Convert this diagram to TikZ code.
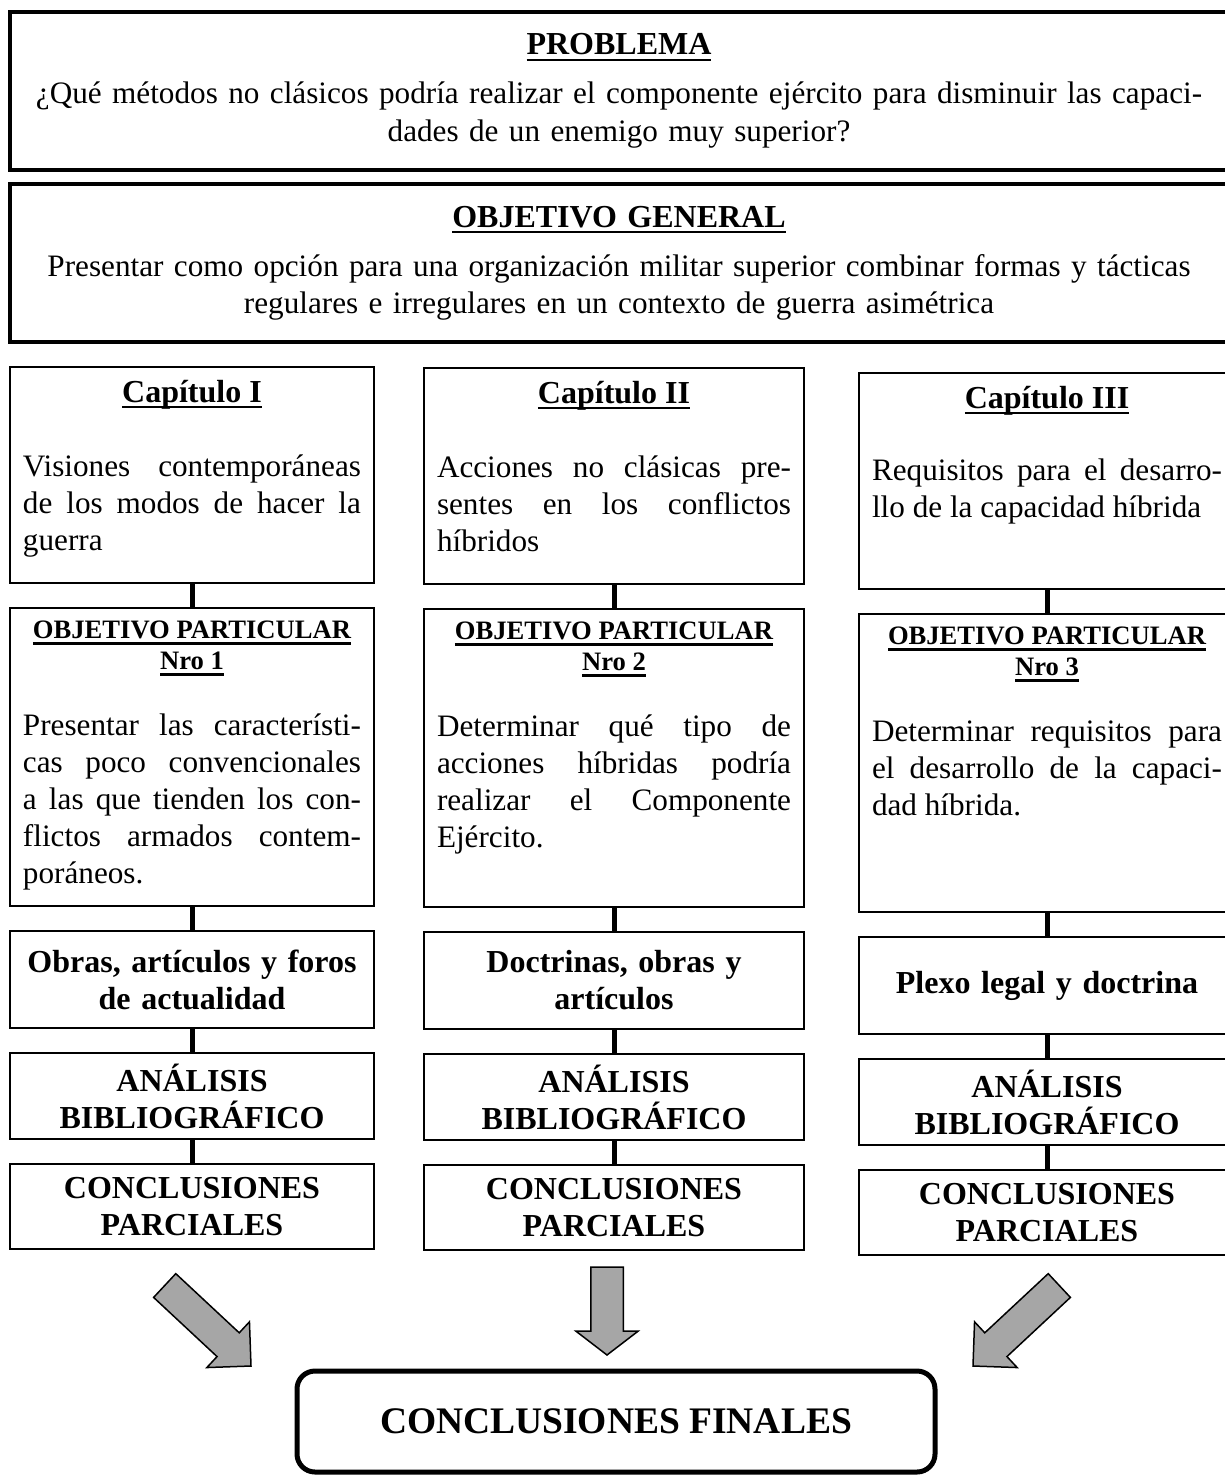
\documentclass[tikz,border=0pt]{standalone}
\usepackage{fontspec}
\setmainfont{Liberation Serif}
\usetikzlibrary{
    positioning,
    shapes.arrows
}
\definecolor{flechagris}{RGB}{166,166,166}
\newcommand{\textoN}{\fontsize{31.2pt}{37pt}\selectfont}
\newcommand{\textoB}{\fontsize{32pt}{37pt}\selectfont}
\newcommand{\textoP}{\fontsize{26.6pt}{31pt}\selectfont}
\newcommand{\textoG}{\fontsize{37.5pt}{44pt}\selectfont}
\newsavebox{\cajasubr}
\newcommand{\subr}[1]{\sbox{\cajasubr}{#1}\leavevmode\rlap{\rule[-6pt]{\wd\cajasubr}{2.2pt}}\usebox{\cajasubr}}
\tolerance=10000
\hyphenpenalty=10000
\tikzset{
    caja/.style = {
        draw,
        outer sep = 0pt,
        inner sep = 0pt,
        font = \textoN
    },
    cajasup/.style = {
        caja,
        line width = 4pt,
        anchor = north west,
        minimum width = 1218pt,
        minimum height = 158pt,
        text width = 1200pt,
        align = center
    },
    cajacol/.style = {
        caja,
        line width = 2pt,
        inner xsep = 13pt
    },
    cajanegrita/.style = {
        caja,
        line width = 2pt,
        font = \textoB\bfseries,
        align = center
    },
    cajafinal/.style = {
        draw,
        outer sep = 0pt,
        rounded corners = 18pt,
        line width = 5pt,
        anchor = north west,
        minimum width = 638pt,
        minimum height = 101pt,
        font = \textoG\bfseries
    },
    enlace/.style = {line width = 5pt},
    flecha/.style = {
        single arrow,
        draw,
        line width = 1.5pt,
        fill = flechagris,
        inner xsep = 0pt,
        inner ysep = 15.5pt,
        outer sep = 0pt,
        single arrow head extend = 15pt,
        single arrow tip angle = 105,
        anchor = tip
    }
}

\begin{document}
\begin{tikzpicture}[
                        x = 1pt,
                        y = -1pt,
                        node distance = 25pt
                    ]
    \useasboundingbox (0,0) rectangle (1224,1477);

    \node[cajasup] (problema) at (10,12) {{\textoB\bfseries\subr{PROBLEMA}}\\[12pt]
        ¿Qué métodos no clásicos podría realizar el componente ejército para disminuir las capaci-\\[1pt]
        dades de un enemigo muy superior?};
    \node[cajasup] (objgeneral) at (10,184) {{\textoB\bfseries\subr{OBJETIVO GENERAL}}\\[12pt]
        Presentar como opción para una organización militar superior combinar formas y tácticas\\
        regulares e irregulares en un contexto de guerra asimétrica};

    % columna 1
    \node[cajacol, anchor = north west] (cap1) at (10,367) {\parbox[c][216pt][t]{338pt}{%
        \vspace*{13pt}{\centering\textoB\bfseries\subr{Capítulo I}\par}\vspace{37pt}%
        Visiones contemporáneas\linebreak de los modos de hacer la\linebreak guerra}};
    \node[cajacol, below = of cap1] (obj1) {\parbox[c][298pt][t]{338pt}{%
        \vspace*{13pt}{\centering\textoP\bfseries\subr{OBJETIVO PARTICULAR}\\\subr{Nro 1}\par}\vspace{29pt}%
        Presentar las característi-\linebreak cas poco convencionales\linebreak a las que tienden los con-\linebreak
        flictos armados contem-\linebreak poráneos.}};
    \node[cajanegrita, text width = 364pt, minimum height = 97pt, below = of obj1] (fuente1)
        {Obras, artículos y foros\\de actualidad};
    \node[cajanegrita, text width = 364pt, minimum height = 86pt, below = of fuente1] (analisis1)
        {ANÁLISIS\\BIBLIOGRÁFICO};
    \node[cajanegrita, text width = 364pt, minimum height = 85pt, below = of analisis1] (concl1)
        {CONCLUSIONES\\PARCIALES};

    % columna 2
    \node[cajacol, anchor = north west] (cap2) at (424,368) {\parbox[c][216pt][t]{354pt}{%
        \vspace*{13pt}{\centering\textoB\bfseries\subr{Capítulo II}\par}\vspace{37pt}%
        Acciones no clásicas pre-\linebreak sentes en los conflictos\linebreak híbridos}};
    \node[cajacol, below = of cap2] (obj2) {\parbox[c][298pt][t]{354pt}{%
        \vspace*{13pt}{\centering\textoP\bfseries\subr{OBJETIVO PARTICULAR}\\\subr{Nro 2}\par}\vspace{29pt}%
        Determinar qué tipo de\linebreak acciones híbridas podría\linebreak realizar el Componente\linebreak
        Ejército.}};
    \node[cajanegrita, text width = 380pt, minimum height = 97pt, below = of obj2] (fuente2)
        {Doctrinas, obras y\\artículos};
    \node[cajanegrita, text width = 380pt, minimum height = 86pt, below = of fuente2] (analisis2)
        {ANÁLISIS\\BIBLIOGRÁFICO};
    \node[cajanegrita, text width = 380pt, minimum height = 85pt, below = of analisis2] (concl2)
        {CONCLUSIONES\\PARCIALES};

    % columna 3
    \node[cajacol, anchor = north west] (cap3) at (859,373) {\parbox[c][216pt][t]{350pt}{%
        \vspace*{13pt}{\centering\textoB\bfseries\subr{Capítulo III}\par}\vspace{35pt}%
        Requisitos para el desarro-\linebreak llo de la capacidad híbrida}};
    \node[cajacol, below = of cap3] (obj3) {\parbox[c][298pt][t]{350pt}{%
        \vspace*{13pt}{\centering\textoP\bfseries\subr{OBJETIVO PARTICULAR}\\\subr{Nro 3}\par}\vspace{29pt}%
        Determinar requisitos para\linebreak el desarrollo de la capaci-\linebreak dad híbrida.}};
    \node[cajanegrita, text width = 376pt, minimum height = 97pt, below = of obj3] (fuente3)
        {Plexo legal y doctrina};
    \node[cajanegrita, text width = 376pt, minimum height = 86pt, below = of fuente3] (analisis3)
        {ANÁLISIS\\BIBLIOGRÁFICO};
    \node[cajanegrita, text width = 376pt, minimum height = 85pt, below = of analisis3] (concl3)
        {CONCLUSIONES\\PARCIALES};

    \path[enlace] (cap1) edge (obj1) (obj1) edge (fuente1) (fuente1) edge (analisis1) (analisis1) edge (concl1);
    \path[enlace] (cap2) edge (obj2) (obj2) edge (fuente2) (fuente2) edge (analisis2) (analisis2) edge (concl2);
    \path[enlace] (cap3) edge (obj3) (obj3) edge (fuente3) (fuente3) edge (analisis3) (analisis3) edge (concl3);

    \node[flecha, minimum height = 118pt, single arrow tip angle = 90, rotate = -43] (flecha1) at (251,1366) {};
    \node[flecha, minimum height = 88pt, rotate = -90] (flecha2) at (607,1355) {};
    \node[flecha, minimum height = 118pt, single arrow tip angle = 90, rotate = -137] (flecha3) at (973,1366) {};

    \node[cajafinal] (finales) at (297,1371) {CONCLUSIONES FINALES};
\end{tikzpicture}
\end{document}
